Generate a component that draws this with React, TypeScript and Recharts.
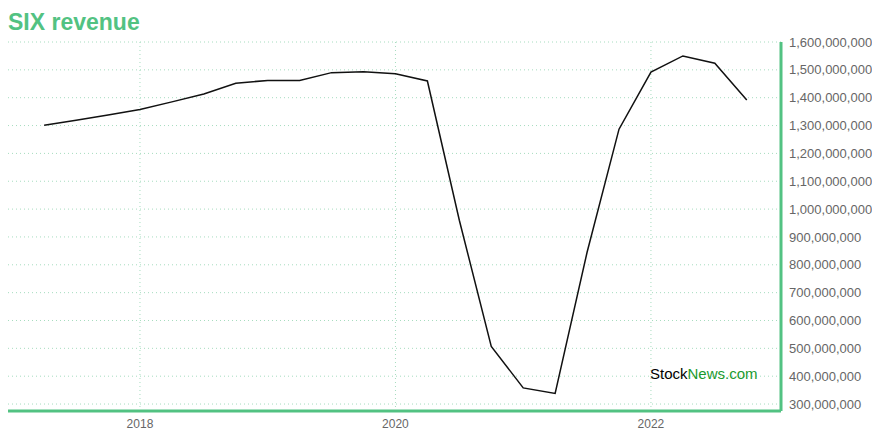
import { LineChart, Line, XAxis, YAxis, CartesianGrid, ReferenceArea } from "recharts"

const quarters = [
  2017.25, 2017.5, 2017.75, 2018, 2018.25, 2018.5, 2018.75, 2019, 2019.25, 2019.5, 2019.75, 2020,
  2020.25, 2020.5, 2020.75, 2021, 2021.25, 2021.5, 2021.75, 2022, 2022.25, 2022.5, 2022.75,
]
const revenue = [
  1301e6, 1319e6, 1338e6, 1358e6, 1385e6, 1413e6, 1452e6, 1462e6, 1462e6, 1490e6, 1493e6, 1486e6,
  1460e6, 960e6, 507e6, 358e6, 338e6, 845e6, 1287e6, 1492e6, 1550e6, 1524e6, 1392e6,
]
const yearTicks = [2018, 2020, 2022]
const valueTicks = [
  300e6, 400e6, 500e6, 600e6, 700e6, 800e6, 900e6, 1000e6, 1100e6, 1200e6, 1300e6, 1400e6, 1500e6, 1600e6,
]

const data = quarters.map((t, i) => ({ t, revenue: revenue[i] }))

const GREEN = "#52c282"
const FONT = "'Liberation Sans', Arial, Helvetica, sans-serif"

export default function App() {
  return (
    <div style={{ position: "relative", width: 872, height: 432, fontFamily: FONT }}>
      <div
        style={{
          position: "absolute",
          left: 0,
          top: 1,
          fontSize: 23,
          fontWeight: "bold",
          color: GREEN,
        }}
      >
        SIX revenue
      </div>
      <LineChart
        width={872}
        height={432}
        data={data}
        margin={{ top: 34, right: 8, bottom: 7, left: 0 }}
      >
        <ReferenceArea stroke="#eeeeee" strokeWidth={1} fill="none" fillOpacity={0} />
        <CartesianGrid
          stroke="#a6dcbf"
          strokeDasharray="1 3"
          verticalValues={yearTicks}
          horizontalValues={valueTicks}
        />
        <XAxis
          dataKey="t"
          type="number"
          domain={[2016.967, 2023.018]}
          allowDataOverflow
          ticks={yearTicks}
          tickFormatter={(v) => String(v)}
          tickLine={false}
          axisLine={{ stroke: GREEN, strokeWidth: 3 }}
          tick={{ fill: "#666", fontSize: 12, fontFamily: FONT }}
          height={22}
        />
        <YAxis
          orientation="right"
          type="number"
          domain={[275e6, 1600e6]}
          allowDataOverflow
          ticks={valueTicks}
          tickFormatter={(v) => Number(v).toLocaleString("en-US")}
          tickLine={false}
          axisLine={{ stroke: GREEN, strokeWidth: 3 }}
          tick={{ fill: "#666", fontSize: 13, fontFamily: FONT, textAnchor: "start" }}
          width={91}
        />
        <Line
          type="linear"
          dataKey="revenue"
          stroke="#111"
          strokeWidth={1.5}
          dot={false}
          isAnimationActive={false}
        />
      </LineChart>
      <div
        style={{
          position: "absolute",
          left: 642,
          top: 357,
          fontSize: 15,
          color: "#000",
        }}
      >
        Stock<span style={{ color: "#1a9a2e" }}>News.com</span>
      </div>
    </div>
  )
}
